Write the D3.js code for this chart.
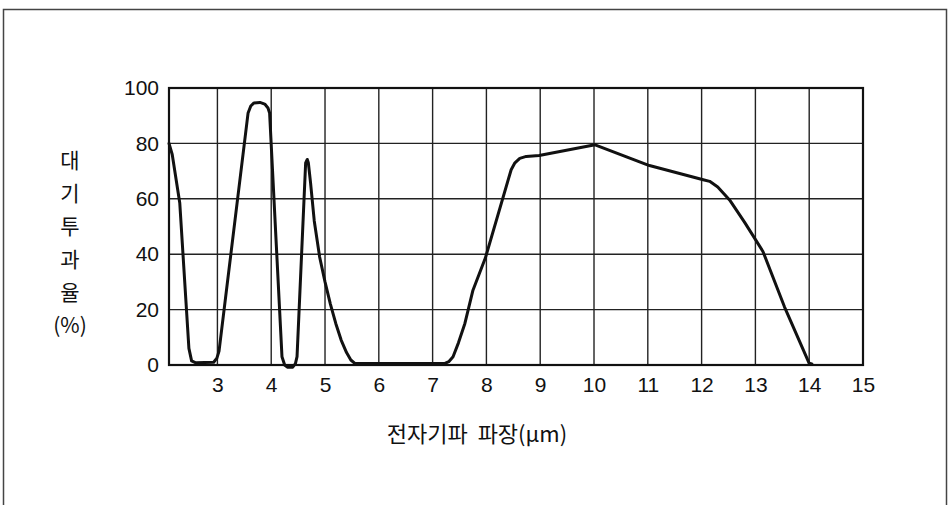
<!DOCTYPE html>
<html>
<head>
<meta charset="utf-8">
<title></title>
<script src="https://cdn.jsdelivr.net/npm/d3@7"></script>
<style>
body{margin:0;background:#fff;}
svg{display:block;}
.tick text{font-family:"Liberation Sans Narrow","Liberation Sans",Arial,sans-serif;}
</style>
</head>
<body>
<svg id="svg1" width="950" height="505"></svg>
<script>
// 파장(μm)과 대기투과율(%)
var wave = [2.1, 2.16, 2.3, 2.47, 2.52, 2.6, 2.93, 2.99, 3.03, 3.57, 3.62, 3.68, 3.79, 3.88, 3.94, 3.97, 4.2, 4.25, 4.3, 4.4, 4.45, 4.48, 4.64, 4.67, 4.69, 4.73, 4.8, 4.9, 5.0, 5.1, 5.2, 5.3, 5.4, 5.48, 5.56, 7.22, 7.3, 7.38, 7.48, 7.6, 7.75, 7.98, 8.46, 8.53, 8.62, 8.74, 8.98, 10.02, 11.03, 12.03, 12.15, 12.3, 12.52, 12.8, 13.14, 13.54, 14.0, 14.05];
var trans = [80, 76, 58.5, 6, 1.5, 0.8, 1, 2.5, 5, 91, 93.5, 94.6, 94.8, 94.2, 92.8, 91, 3, 0, -0.8, -0.8, 0.5, 3, 73, 74.2, 73, 66, 52, 39, 30, 22, 15, 9, 4.5, 1.8, 0.5, 0.5, 1.2, 3, 8, 15, 27, 38.6, 70.5, 73, 74.6, 75.3, 75.6, 79.5, 72, 66.9, 66.3, 64.3, 59.6, 51.5, 41, 21, 0.6, 0.4];
var xTicks = [3, 4, 5, 6, 7, 8, 9, 10, 11, 12, 13, 14, 15];
var yTicks = [0, 20, 40, 60, 80, 100];
var yLabel = ['대', '기', '투', '과', '율', '(%)'];
var xTitle = '전자기파  파장(μm)';

var svg = d3.select('#svg1');

// 바깥 테두리
svg.append('rect')
  .attr('x', 3.5).attr('y', 9.5)
  .attr('width', 943).attr('height', 520)
  .attr('fill', 'none').attr('stroke', '#444').attr('stroke-width', 1.5);

var pL = 169, pR = 863, pT = 88, pB = 365;
var x = d3.scaleLinear().domain([2.1, 15]).range([pL, pR]);
var y = d3.scaleLinear().domain([0, 100]).range([pB, pT]);

var g = svg.append('g');

// 격자
g.selectAll('line.vg').data(xTicks).enter().append('line')
  .attr('x1', d => x(d)).attr('x2', d => x(d))
  .attr('y1', pT).attr('y2', pB)
  .attr('stroke', '#222').attr('stroke-width', 1.4);
g.selectAll('line.hg').data(yTicks).enter().append('line')
  .attr('x1', pL).attr('x2', pR)
  .attr('y1', d => y(d)).attr('y2', d => y(d))
  .attr('stroke', '#222').attr('stroke-width', 1.4);

g.append('rect')
  .attr('x', pL).attr('y', pT)
  .attr('width', pR - pL).attr('height', pB - pT)
  .attr('fill', 'none').attr('stroke', '#111').attr('stroke-width', 2.2);

// 축
var xAxis = d3.axisBottom(x).tickValues(xTicks).tickSize(0).tickPadding(12).tickFormat(d3.format('d'));
var yAxis = d3.axisLeft(y).tickValues(yTicks).tickSize(0).tickPadding(10).tickFormat(d3.format('d'));

var gx = svg.append('g').attr('transform', 'translate(0,' + pB + ')').call(xAxis);
var gy = svg.append('g').attr('transform', 'translate(' + pL + ',0)').call(yAxis);
[gx, gy].forEach(function(a){
  a.select('.domain').remove();
  a.selectAll('text').attr('font-size', 21).attr('fill', '#111');
});

// 곡선
var line = d3.line()
  .x((d, i) => x(wave[i]))
  .y((d, i) => y(trans[i]));

svg.append('path')
  .attr('d', line(trans))
  .attr('fill', 'none').attr('stroke', '#111')
  .attr('stroke-width', 3).attr('stroke-linejoin', 'round').attr('stroke-linecap', 'round');

// 축 제목
svg.selectAll('text.yl').data(yLabel).enter().append('text')
  .attr('x', 70)
  .attr('y', (d, i) => 168 + i * 33)
  .attr('text-anchor', 'middle')
  .attr('font-family', '"Noto Sans CJK KR", sans-serif')
  .attr('font-size', 21).attr('fill', '#111')
  .text(d => d);

svg.append('text')
  .attr('x', 477).attr('y', 442)
  .attr('text-anchor', 'middle')
  .attr('font-family', '"Noto Sans CJK KR", sans-serif')
  .attr('font-size', 22).attr('fill', '#111')
  .attr('xml:space', 'preserve').style('white-space', 'pre')
  .text(xTitle);
</script>
</body>
</html>
